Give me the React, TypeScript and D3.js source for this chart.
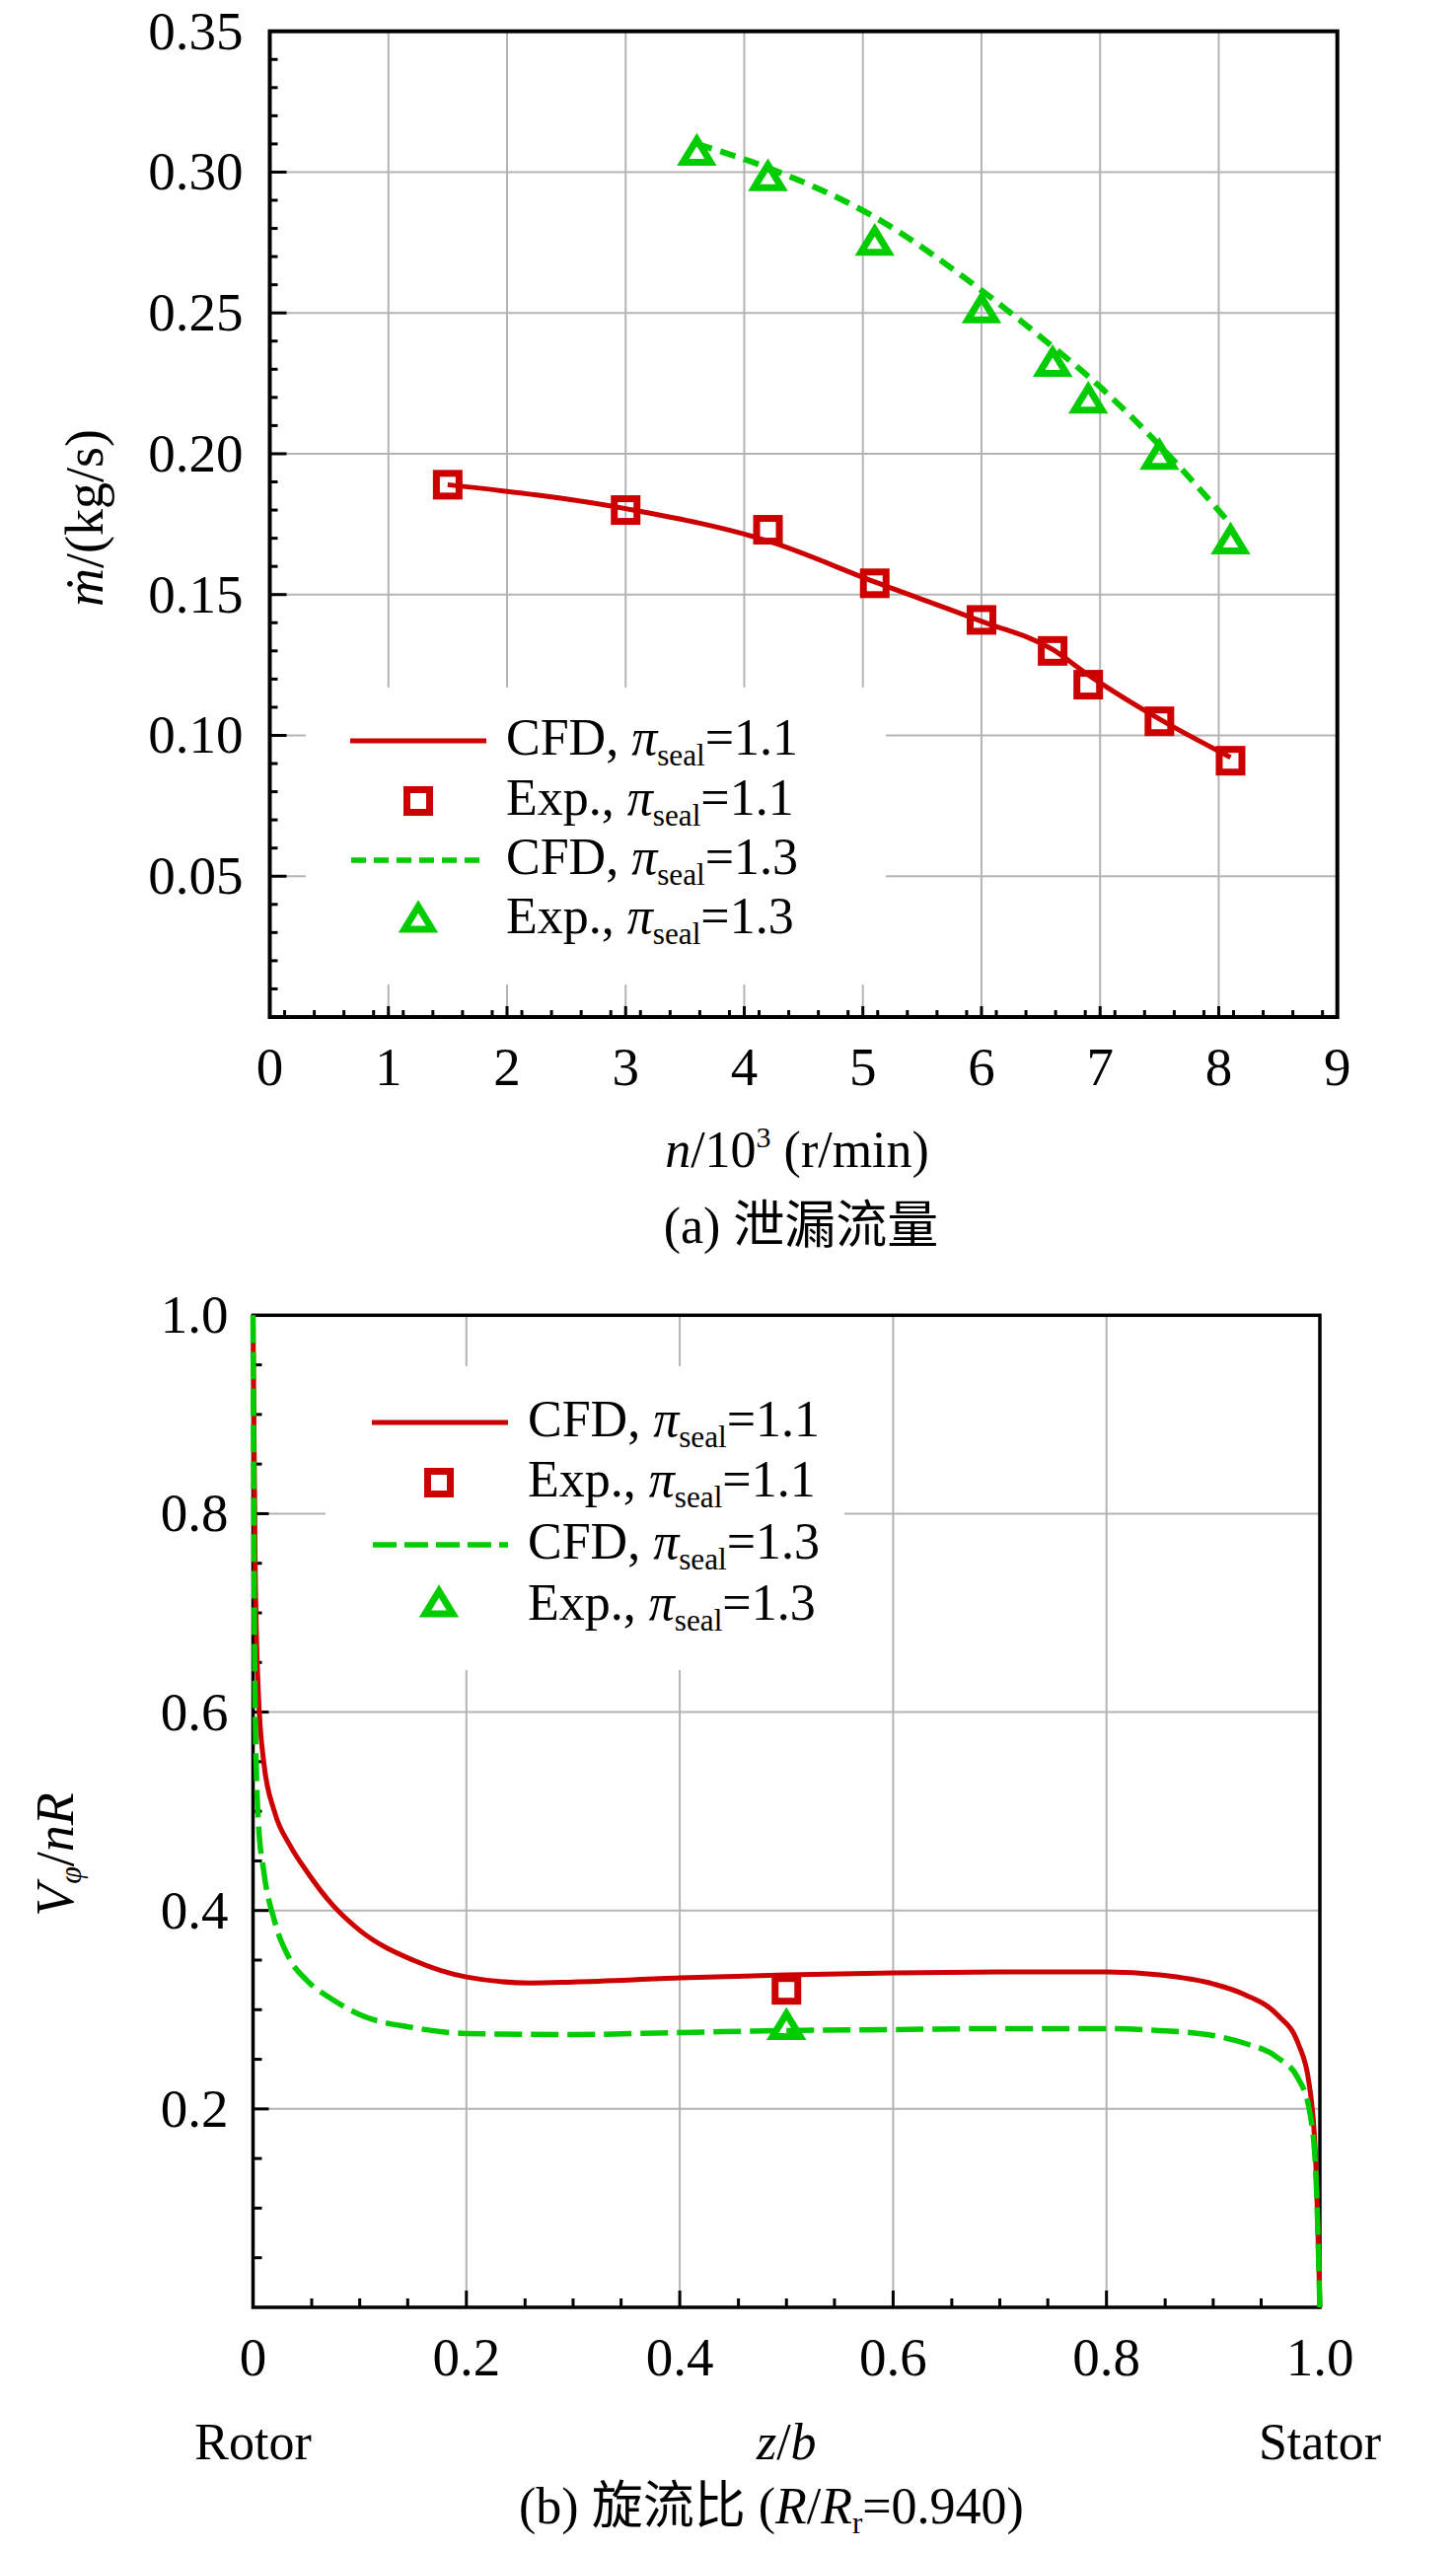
import React from "react";
import * as d3 from "d3";

// ---------- Panel (a) data: leakage flow vs rotational speed ----------
const expA11N = [1.5, 3.0, 4.2, 5.1, 6.0, 6.6, 6.9, 7.5, 8.1];
const expA11M = [0.189, 0.18, 0.173, 0.154, 0.141, 0.13, 0.118, 0.105, 0.091];
const cfdA11N = [1.5, 3.0, 4.2, 5.1, 6.0, 6.6, 6.9, 7.5, 8.1];
const cfdA11M = [0.189, 0.1805, 0.169, 0.1545, 0.1405, 0.1305, 0.1215, 0.1058, 0.0922];
const expA13N = [3.6, 4.2, 5.1, 6.0, 6.6, 6.9, 7.5, 8.1];
const expA13M = [0.307, 0.298, 0.275, 0.251, 0.232, 0.219, 0.199, 0.169];
const cfdA13N = [3.6, 4.2, 5.1, 6.0, 6.6, 6.9, 7.5, 8.1];
const cfdA13M = [0.31, 0.3015, 0.284, 0.258, 0.238, 0.2275, 0.203, 0.175];
const aXTicks = [0, 1, 2, 3, 4, 5, 6, 7, 8, 9];
const aYTicks = [0.05, 0.1, 0.15, 0.2, 0.25, 0.3, 0.35];

// ---------- Panel (b) data: swirl ratio vs z/b ----------
const cfdB11Z = [0, 0.002, 0.005, 0.01, 0.02, 0.035, 0.05, 0.075, 0.1, 0.15, 0.2, 0.26, 0.3, 0.4, 0.5, 0.6, 0.7, 0.8, 0.85, 0.9, 0.93, 0.96, 0.98, 0.99, 0.996, 1.0];
const cfdB11V = [1.0, 0.75, 0.62, 0.55, 0.5, 0.465, 0.44, 0.405, 0.38, 0.35, 0.333, 0.327, 0.328, 0.332, 0.335, 0.337, 0.338, 0.338, 0.335, 0.326, 0.315, 0.295, 0.265, 0.225, 0.15, 0.0];
const cfdB13Z = [0, 0.002, 0.005, 0.01, 0.02, 0.035, 0.05, 0.075, 0.1, 0.15, 0.2, 0.3, 0.4, 0.5, 0.6, 0.7, 0.8, 0.85, 0.9, 0.93, 0.96, 0.98, 0.99, 0.996, 1.0];
const cfdB13V = [1.0, 0.6, 0.49, 0.44, 0.39, 0.35, 0.33, 0.31, 0.295, 0.282, 0.276, 0.275, 0.277, 0.279, 0.28, 0.281, 0.281, 0.279, 0.274, 0.266, 0.252, 0.23, 0.2, 0.14, 0.0];
const expBZ = [0.5];
const expB11V = [0.32];
const expB13V = [0.283];
const bXTicks = [0, 0.2, 0.4, 0.6, 0.8, 1.0];
const bYTicks = [0.2, 0.4, 0.6, 0.8, 1.0];

const RED = "#CC0000";
const GREEN = "#00CC00";
const GRID = "#B4B4B4";
const SERIF = "'Liberation Serif', 'Times New Roman', 'DejaVu Serif', serif";
const CJK = "'Liberation Serif', 'Noto Sans CJK SC', serif";

const zip = (xs: number[], ys: number[]) => xs.map((x, i) => [x, ys[i]] as [number, number]);

function Square({ x, y }: { x: number; y: number }) {
  return <rect x={x - 11.5} y={y - 11.5} width={23} height={23} fill="none" stroke={RED} strokeWidth={7} />;
}
function Triangle({ x, y }: { x: number; y: number }) {
  return (
    <path
      d={`M${x},${y - 13}L${x - 14},${y + 10}L${x + 14},${y + 10}Z`}
      fill="none"
      stroke={GREEN}
      strokeWidth={7}
      strokeLinejoin="miter"
    />
  );
}

function SealLabel({ x, y, pre, val, fs }: { x: number; y: number; pre: string; val: string; fs: number }) {
  return (
    <text x={x} y={y} fontFamily={SERIF} fontSize={fs} fill="#000">
      <tspan>{pre}</tspan>
      <tspan fontStyle="italic">π</tspan>
      <tspan fontSize={fs * 0.6} dy={11}>seal</tspan>
      <tspan dy={-11}>={val}</tspan>
    </text>
  );
}

function PanelA() {
  const x = d3.scaleLinear().domain([0, 9]).range([273.5, 1355.7]);
  const y = d3.scaleLinear().domain([0, 0.35]).range([1031, 31.7]);
  const [x0, x1] = x.range();
  const [yb, yt] = y.range();
  const line = d3.line<[number, number]>().x((d) => x(d[0])).y((d) => y(d[1])).curve(d3.curveMonotoneX);
  const xMinor: number[] = [];
  for (let i = 0; i < 9; i++) [0.125, 0.375, 0.625, 0.875].forEach((f) => xMinor.push(i + f));
  const yMinor = d3.range(1, 35).filter((k) => k % 5 !== 0).map((k) => k / 100);
  const legBox = { x: 310, y: 697, w: 588, h: 301 };
  return (
    <g>
      {aXTicks.slice(1, -1).map((t) => (
        <line key={"gx" + t} x1={x(t)} x2={x(t)} y1={yt} y2={yb} stroke={GRID} strokeWidth={2} />
      ))}
      {aYTicks.slice(0, -1).map((t) => (
        <line key={"gy" + t} x1={x0} x2={x1} y1={y(t)} y2={y(t)} stroke={GRID} strokeWidth={2} />
      ))}
      <rect x={legBox.x} y={legBox.y} width={legBox.w} height={legBox.h} fill="#fff" />
      {xMinor.map((t) => (
        <line key={"xm" + t} x1={x(t)} x2={x(t)} y1={yb} y2={yb - 7} stroke="#000" strokeWidth={3} />
      ))}
      {aXTicks.slice(1, -1).map((t) => (
        <line key={"xM" + t} x1={x(t)} x2={x(t)} y1={yb} y2={yb - 11} stroke="#000" strokeWidth={3} />
      ))}
      {yMinor.map((t) => (
        <line key={"ym" + t} x1={x0} x2={x0 + 8} y1={y(t)} y2={y(t)} stroke="#000" strokeWidth={3} />
      ))}
      {aYTicks.slice(0, -1).map((t) => (
        <line key={"yM" + t} x1={x0} x2={x0 + 17} y1={y(t)} y2={y(t)} stroke="#000" strokeWidth={3} />
      ))}
      <rect x={x0} y={yt} width={x1 - x0} height={yb - yt} fill="none" stroke="#000" strokeWidth={4} />
      {aXTicks.map((t) => (
        <text key={"xl" + t} x={x(t)} y={yb + 69} textAnchor="middle" fontFamily={SERIF} fontSize={55}>
          {String(t)}
        </text>
      ))}
      {aYTicks.map((t) => (
        <text key={"yl" + t} x={x0 - 27} y={y(t) + 18} textAnchor="end" fontFamily={SERIF} fontSize={55}>
          {d3.format(".2f")(t)}
        </text>
      ))}
      <path d={line(zip(cfdA11N, cfdA11M)) || ""} fill="none" stroke={RED} strokeWidth={5} />
      <path d={line(zip(cfdA13N, cfdA13M)) || ""} fill="none" stroke={GREEN} strokeWidth={6} strokeDasharray="16 9" />
      {expA11N.map((n, i) => (
        <Square key={"s" + i} x={x(n)} y={y(expA11M[i])} />
      ))}
      {expA13N.map((n, i) => (
        <Triangle key={"t" + i} x={x(n)} y={y(expA13M[i])} />
      ))}
      <line x1={355} x2={493} y1={751} y2={751} stroke={RED} strokeWidth={5} />
      <Square x={424} y={812} />
      <line x1={356} x2={493} y1={872} y2={872} stroke={GREEN} strokeWidth={5.5} strokeDasharray="15 8" />
      <Triangle x={424} y={932} />
      <SealLabel x={513} y={765} pre="CFD, " val="1.1" fs={52} />
      <SealLabel x={513} y={826} pre="Exp., " val="1.1" fs={52} />
      <SealLabel x={513} y={886} pre="CFD, " val="1.3" fs={52} />
      <SealLabel x={513} y={946} pre="Exp., " val="1.3" fs={52} />
      <text transform="translate(104,525) rotate(-90)" textAnchor="middle" fontFamily={SERIF} fontSize={54}>
        <tspan fontStyle="italic">ṁ</tspan>
        <tspan>/(kg/s)</tspan>
      </text>
      <text x={808} y={1183} textAnchor="middle" fontFamily={SERIF} fontSize={52}>
        <tspan fontStyle="italic">n</tspan>
        <tspan>/10</tspan>
        <tspan fontSize={30} dy={-20}>3</tspan>
        <tspan dy={20}> (r/min)</tspan>
      </text>
      <text x={812} y={1260} textAnchor="middle" fontFamily={CJK} fontSize={52}>
        (a) 泄漏流量
      </text>
    </g>
  );
}

function PanelB() {
  const x = d3.scaleLinear().domain([0, 1]).range([256.5, 1338]);
  const y = d3.scaleLinear().domain([0, 1]).range([2339, 1333.3]);
  const [x0, x1] = x.range();
  const [yb, yt] = y.range();
  const line = d3.line<[number, number]>().x((d) => x(d[0])).y((d) => y(d[1])).curve(d3.curveMonotoneX);
  const xMinor: number[] = [];
  for (let i = 0; i < 5; i++) [0.055, 0.1, 0.145].forEach((f) => xMinor.push(i * 0.2 + f));
  const yMinor = d3.range(1, 20).filter((k) => k % 4 !== 0).map((k) => k * 0.05);
  const legBox = { x: 330, y: 1385, w: 526, h: 308 };
  return (
    <g>
      {bXTicks.slice(1, -1).map((t) => (
        <line key={"gx" + t} x1={x(t)} x2={x(t)} y1={yt} y2={yb} stroke={GRID} strokeWidth={2} />
      ))}
      {bYTicks.slice(0, -1).map((t) => (
        <line key={"gy" + t} x1={x0} x2={x1} y1={y(t)} y2={y(t)} stroke={GRID} strokeWidth={2} />
      ))}
      <rect x={legBox.x} y={legBox.y} width={legBox.w} height={legBox.h} fill="#fff" />
      {xMinor.map((t) => (
        <line key={"xm" + t} x1={x(t)} x2={x(t)} y1={yb} y2={yb - 9} stroke="#000" strokeWidth={3} />
      ))}
      {bXTicks.slice(1, -1).map((t) => (
        <line key={"xM" + t} x1={x(t)} x2={x(t)} y1={yb} y2={yb - 17} stroke="#000" strokeWidth={3} />
      ))}
      {yMinor.map((t) => (
        <line key={"ym" + t} x1={x0} x2={x0 + 9} y1={y(t)} y2={y(t)} stroke="#000" strokeWidth={3} />
      ))}
      {bYTicks.slice(0, -1).map((t) => (
        <line key={"yM" + t} x1={x0} x2={x0 + 16} y1={y(t)} y2={y(t)} stroke="#000" strokeWidth={3} />
      ))}
      <rect x={x0} y={yt} width={x1 - x0} height={yb - yt} fill="none" stroke="#000" strokeWidth={3.5} />
      {bXTicks.map((t) => (
        <text key={"xl" + t} x={x(t)} y={yb + 69} textAnchor="middle" fontFamily={SERIF} fontSize={55}>
          {t === 0 ? "0" : d3.format(".1f")(t)}
        </text>
      ))}
      {bYTicks.map((t) => (
        <text key={"yl" + t} x={x0 - 25} y={y(t) + 18} textAnchor="end" fontFamily={SERIF} fontSize={55}>
          {d3.format(".1f")(t)}
        </text>
      ))}
      <path d={line(zip(cfdB11Z, cfdB11V)) || ""} fill="none" stroke={RED} strokeWidth={5} />
      <path d={line(zip(cfdB13Z, cfdB13V)) || ""} fill="none" stroke={GREEN} strokeWidth={5.5} strokeDasharray="28 9" />
      {expBZ.map((z, i) => (
        <Square key={"s" + i} x={x(z)} y={y(expB11V[i])} />
      ))}
      {expBZ.map((z, i) => (
        <Triangle key={"t" + i} x={x(z)} y={y(expB13V[i])} />
      ))}
      <line x1={377} x2={515} y1={1442} y2={1442} stroke={RED} strokeWidth={5} />
      <Square x={445} y={1503} />
      <line x1={378} x2={515} y1={1566} y2={1566} stroke={GREEN} strokeWidth={5.5} strokeDasharray="24 8" />
      <Triangle x={445} y={1626} />
      <SealLabel x={535} y={1456} pre="CFD, " val="1.1" fs={52} />
      <SealLabel x={535} y={1517} pre="Exp., " val="1.1" fs={52} />
      <SealLabel x={535} y={1580} pre="CFD, " val="1.3" fs={52} />
      <SealLabel x={535} y={1642} pre="Exp., " val="1.3" fs={52} />
      <text transform="translate(74,1880) rotate(-90)" textAnchor="middle" fontFamily={SERIF} fontSize={54}>
        <tspan fontStyle="italic">V</tspan>
        <tspan fontStyle="italic" fontSize={32} dy={8}>φ</tspan>
        <tspan dy={-8}>/</tspan>
        <tspan fontStyle="italic">nR</tspan>
      </text>
      <text x={x0} y={2493} textAnchor="middle" fontFamily={SERIF} fontSize={52}>Rotor</text>
      <text x={x1} y={2493} textAnchor="middle" fontFamily={SERIF} fontSize={52}>Stator</text>
      <text x={(x0 + x1) / 2} y={2493} textAnchor="middle" fontFamily={SERIF} fontSize={52}>
        <tspan fontStyle="italic">z</tspan>
        <tspan>/</tspan>
        <tspan fontStyle="italic">b</tspan>
      </text>
      <text x={782} y={2558} textAnchor="middle" fontFamily={CJK} fontSize={52}>
        <tspan>(b) 旋流比 (</tspan>
        <tspan fontStyle="italic">R</tspan>
        <tspan>/</tspan>
        <tspan fontStyle="italic">R</tspan>
        <tspan fontSize={31} dy={10}>r</tspan>
        <tspan dy={-10}>=0.940)</tspan>
      </text>
    </g>
  );
}

export default function App() {
  return (
    <svg
      width={1476}
      height={2585}
      viewBox="0 0 1476 2585"
      style={{ position: "absolute", left: 0, top: 0, background: "#fff" }}
    >
      <rect x={0} y={0} width={1476} height={2585} fill="#fff" />
      <PanelA />
      <PanelB />
    </svg>
  );
}
